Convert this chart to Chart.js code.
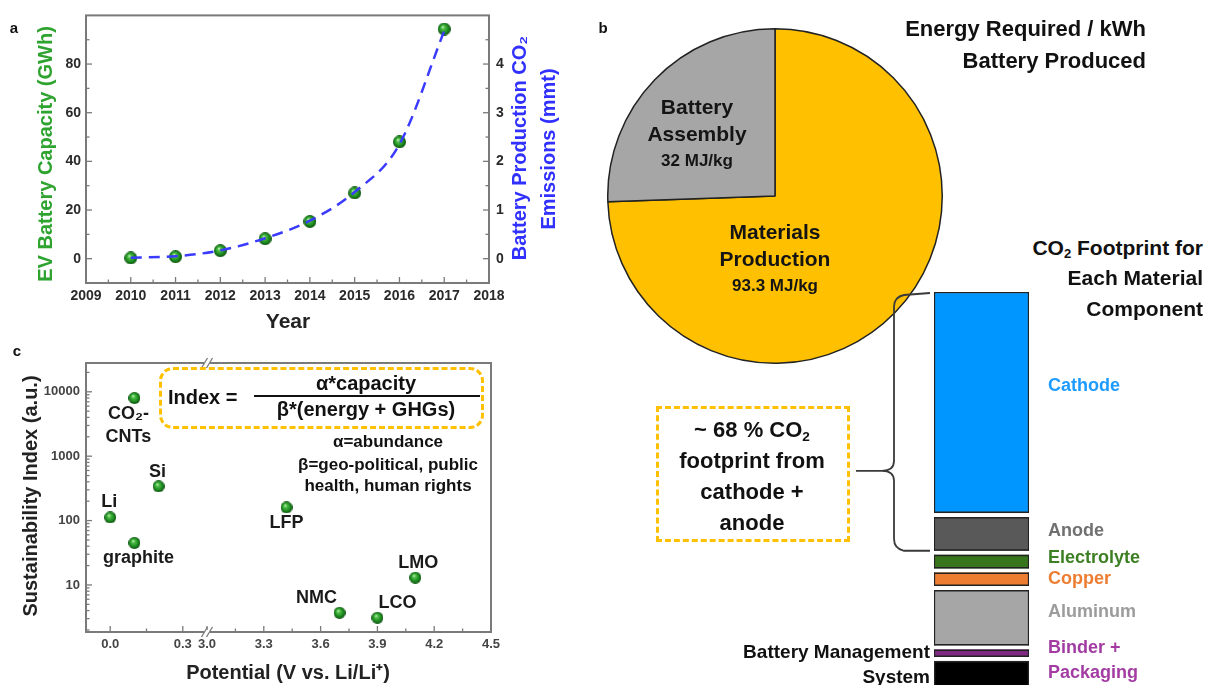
<!DOCTYPE html>
<html>
<head>
<meta charset="utf-8">
<script src="https://cdn.jsdelivr.net/npm/chart.js@4.4.0/dist/chart.umd.min.js"></script>
<style>
  html, body { margin: 0; padding: 0; background: #fff; width: 1208px; height: 685px; overflow: hidden;
    font-family: "Liberation Sans", Arial, Helvetica, sans-serif; font-weight: bold; color: #111; }
  .box { position: absolute; }
  .c { position: absolute; white-space: nowrap; transform: translate(-50%, -50%); line-height: 1; }
  .r { position: absolute; white-space: nowrap; transform: translate(-100%, -50%); line-height: 1; }
  .l { position: absolute; white-space: nowrap; transform: translate(0, -50%); line-height: 1; }
  sub { font-size: 0.62em; vertical-align: -0.3em; line-height: 0; }
  .dash { position: absolute; box-sizing: border-box; border: 3px dashed #FFC000; }
</style>
</head>
<body>
<div class="box" style="left:0;top:0;width:560px;height:340px"><canvas id="capChart"></canvas></div>
<div class="box" style="left:0;top:340px;width:560px;height:345px"><canvas id="indexChart"></canvas></div>
<div class="box" style="left:607px;top:28px;width:336px;height:336px"><canvas id="energyPie"></canvas></div>
<div class="box" style="left:700px;top:288px;width:508px;height:414px"><canvas id="co2Bar"></canvas></div>

<div class="c" style="left:14px;top:27px;font-size:15px">a</div>
<div class="c" style="left:603px;top:27px;font-size:15px">b</div>
<div class="c" style="left:17px;top:350px;font-size:15px">c</div>

<div class="r" style="left:1146px;top:29px;font-size:22px">Energy Required / kWh</div>
<div class="r" style="left:1146px;top:61px;font-size:22px">Battery Produced</div>
<div class="r" style="left:1203px;top:247px;font-size:21px">CO<sub>2</sub> Footprint for</div>
<div class="r" style="left:1203px;top:277px;font-size:21px">Each Material</div>
<div class="r" style="left:1203px;top:308px;font-size:21px">Component</div>

<div class="dash" style="left:656px;top:406px;width:194px;height:136px"></div>
<div class="c" style="left:752px;top:430px;font-size:22px">~ 68 % CO<sub>2</sub></div>
<div class="c" style="left:752px;top:461px;font-size:22px">footprint from</div>
<div class="c" style="left:752px;top:492px;font-size:22px">cathode +</div>
<div class="c" style="left:752px;top:523px;font-size:22px">anode</div>

<div class="dash" style="left:159px;top:367px;width:325px;height:62px;border-radius:14px"></div>
<div class="l" style="left:168px;top:397px;font-size:20px">Index =</div>
<div class="c" style="left:366px;top:383px;font-size:20px">α*capacity</div>
<div style="position:absolute;left:254px;top:395px;width:226px;height:1.5px;background:#111"></div>
<div class="c" style="left:366px;top:409px;font-size:20px">β*(energy + GHGs)</div>
<div class="c" style="left:388px;top:441px;font-size:17px">α=abundance</div>
<div class="c" style="left:388px;top:464px;font-size:17px">β=geo-political, public</div>
<div class="c" style="left:388px;top:485px;font-size:17px">health, human rights</div>

<script>
// panel a: EV battery capacity and CO2 emissions
const years = [2010, 2011, 2012, 2013, 2014, 2015, 2016, 2017];
const capacityGWh = [0.3, 0.8, 3.3, 8.2, 15.3, 27, 48, 94.4];
const emissionsMmt = [0.02, 0.05, 0.17, 0.42, 0.78, 1.37, 2.35, 4.68];
const yearTicks = [2009, 2010, 2011, 2012, 2013, 2014, 2015, 2016, 2017, 2018];
const capacityTicks = [0, 20, 40, 60, 80];
const emissionTicks = [0, 1, 2, 3, 4];

// panel b: energy per kWh and CO2 share of each component
const energySources = ['Materials\nProduction', 'Battery\nAssembly'];
const energyMJkg = [93.3, 32];
const components = ['Cathode', 'Anode', 'Electrolyte', 'Copper', 'Aluminum', 'Binder +\nPackaging', 'Battery Management\nSystem'];
const co2Share = [54.4, 9.2, 4.3, 4.3, 14.5, 2.8, 10.5];

// panel c: sustainability index vs potential
const anodeNames = ['CO₂-\nCNTs', 'Si', 'Li', 'graphite'];
const anodePotential = [0.1, 0.2, 0.0, 0.1];
const anodeIndex = [8000, 340, 112, 45];
const cathodeNames = ['LFP', 'NMC', 'LCO', 'LMO'];
const cathodePotential = [3.42, 3.7, 3.9, 4.1];
const cathodeIndex = [160, 3.7, 3.1, 13];
const lowPotTicks = [0.0, 0.3];
const highPotTicks = [3.0, 3.3, 3.6, 3.9, 4.2, 4.5];
const indexTicks = [10, 100, 1000, 10000];

const FONT = '"Liberation Sans", Arial, Helvetica, sans-serif';
Chart.defaults.font.family = FONT;
Chart.defaults.font.weight = 'bold';
Chart.defaults.color = '#333';
Chart.defaults.animation = false;
Chart.defaults.responsive = true;
Chart.defaults.maintainAspectRatio = false;
Chart.defaults.plugins.legend.display = false;
Chart.defaults.plugins.tooltip.enabled = false;

function sphere(d) {
  const c = document.createElement('canvas');
  c.width = c.height = d;
  const g = c.getContext('2d');
  const r = d / 2;
  const grad = g.createRadialGradient(r * 0.75, r * 0.65, 0, r, r, r);
  grad.addColorStop(0, '#eaffe4');
  grad.addColorStop(0.25, '#52c24a');
  grad.addColorStop(0.7, '#1d8a1f');
  grad.addColorStop(1, '#0a4d0d');
  g.fillStyle = grad;
  g.beginPath();
  g.arc(r, r, r, 0, Math.PI * 2);
  g.fill();
  return c;
}

function drawText(ctx, txt, x, y, o) {
  ctx.save();
  ctx.font = `bold ${o.size || 17}px ${FONT}`;
  ctx.fillStyle = o.color || '#111';
  ctx.textAlign = o.align || 'center';
  ctx.textBaseline = 'middle';
  ctx.translate(x, y);
  if (o.rot) ctx.rotate(o.rot * Math.PI / 180);
  ctx.fillText(txt, 0, 0);
  ctx.restore();
}

// major ticks plus a minor tick half way to the next one
function withMinor(major) {
  const step = major[1] - major[0];
  const out = [];
  major.forEach(v => out.push(v, v + step / 2));
  return out;
}

function fixedTicks(values) {
  return scale => {
    scale.ticks = values.filter(v => v >= scale.min - 1e-9 && v <= scale.max + 1e-9).map(v => ({ value: v }));
  };
}

const tickFont = { size: 13, weight: 'bold' };
const tickFontA = { size: 14, weight: 'bold' };

// box around the plot, inward tick marks, axis breaks, axis titles
const framePlugin = {
  id: 'frame',
  afterDraw(chart, args, opts) {
    const { ctx, chartArea: a } = chart;
    ctx.save();
    ctx.strokeStyle = '#7a7a7a';
    ctx.lineWidth = 1.3;
    Object.values(chart.scales).forEach(s => {
      s.ticks.forEach(t => {
        const p = s.getPixelForValue(t.value);
        const len = t.label ? 6 : 3.5;
        ctx.beginPath();
        if (s.position === 'bottom') { ctx.moveTo(p, a.bottom); ctx.lineTo(p, a.bottom - len); }
        else if (s.position === 'left') { ctx.moveTo(a.left, p); ctx.lineTo(a.left + len, p); }
        else if (s.position === 'right') { ctx.moveTo(a.right, p); ctx.lineTo(a.right - len, p); }
        ctx.stroke();
      });
    });
    ctx.lineWidth = 2;
    ctx.strokeRect(a.left, a.top, a.width, a.height);
    (opts.breaks || []).forEach(id => {
      const x = chart.scales[id].right;
      [a.top, a.bottom].forEach(y => {
        ctx.fillStyle = '#fff';
        ctx.fillRect(x - 3, y - 2, 6, 4);
        ctx.lineWidth = 1.3;
        [-2.5, 2.5].forEach(d => {
          ctx.beginPath();
          ctx.moveTo(x + d - 3, y + 5);
          ctx.lineTo(x + d + 3, y - 5);
          ctx.stroke();
        });
      });
    });
    (opts.titles || []).forEach(tt => drawText(ctx, tt.text, tt.x, tt.y, tt));
    ctx.restore();
  }
};

// panel a
new Chart(document.getElementById('capChart'), {
  type: 'line',
  data: {
    datasets: [
      {
        label: 'Battery production CO₂ emissions',
        data: years.map((x, i) => ({ x, y: emissionsMmt[i] })),
        yAxisID: 'y2',
        borderColor: '#3b3bff',
        borderWidth: 2.5,
        borderDash: [11, 7],
        pointRadius: 0,
        cubicInterpolationMode: 'monotone',
        fill: false,
      },
      {
        label: 'EV battery capacity',
        data: years.map((x, i) => ({ x, y: capacityGWh[i] })),
        yAxisID: 'y',
        showLine: false,
        pointStyle: sphere(13),
        pointRadius: 6,
      },
    ],
  },
  options: {
    layout: { padding: { top: 14 } },
    scales: {
      x: {
        type: 'linear', min: 2009, max: 2018,
        grid: { display: false, drawTicks: false }, border: { display: false },
        afterBuildTicks: fixedTicks(withMinor(yearTicks)),
        ticks: { callback: v => yearTicks.includes(v) ? String(v) : '', autoSkip: false, maxRotation: 0, minRotation: 0, font: tickFontA, padding: 5, color: '#2a2a2a' },
        afterFit: s => { s.height = 57; },
      },
      y: {
        position: 'left', min: -10, max: 100,
        grid: { display: false, drawTicks: false }, border: { display: false },
        afterBuildTicks: fixedTicks(withMinor(capacityTicks)),
        ticks: { callback: v => capacityTicks.includes(v) ? String(v) : '', autoSkip: false, font: tickFontA, padding: 5, color: '#2a2a2a' },
        afterFit: s => { s.width = 86; },
      },
      y2: {
        position: 'right', min: -0.5, max: 5,
        grid: { display: false, drawTicks: false }, border: { display: false },
        afterBuildTicks: fixedTicks(withMinor(emissionTicks)),
        ticks: { callback: v => emissionTicks.includes(v) ? String(v) : '', autoSkip: false, font: tickFontA, padding: 7, color: '#2a2a2a' },
        afterFit: s => { s.width = 71; },
      },
    },
    plugins: {
      frame: {
        titles: [
          { text: 'EV Battery Capacity (GWh)', x: 46, y: 154, rot: -90, size: 20, color: '#2fa32f' },
          { text: 'Battery Production CO₂', x: 520, y: 148, rot: -90, size: 20, color: '#3030ff' },
          { text: 'Emissions (mmt)', x: 549, y: 149, rot: -90, size: 20, color: '#3030ff' },
          { text: 'Year', x: 288, y: 322, size: 21, color: '#222' },
        ],
      },
    },
  },
  plugins: [framePlugin],
});

// panel c: point names
const nameOffsets = {
  'CO₂-\nCNTs': [-6, 16], 'Si': [-1, -14], 'Li': [-1, -15], 'graphite': [4, 15],
  'LFP': [0, 16], 'NMC': [-23, -15], 'LCO': [20, -15], 'LMO': [3, -15],
};
const pointNamePlugin = {
  id: 'pointNames',
  afterDatasetsDraw(chart) {
    const { ctx } = chart;
    chart.data.datasets.forEach((ds, di) => {
      chart.getDatasetMeta(di).data.forEach((pt, i) => {
        const name = ds.names[i];
        const [dx, dy] = nameOffsets[name];
        const lines = name.split('\n');
        lines.forEach((ln, k) => {
          const y = dy < 0 ? pt.y + dy - (lines.length - 1 - k) * 23 : pt.y + dy + k * 23;
          drawText(ctx, ln, pt.x + dx, y, { size: 18, color: '#1a1a1a' });
        });
      });
    });
  }
};

const logMinor = [];
[1, 10, 100, 1000, 10000].forEach(d => { for (let m = 1; m <= 9; m++) logMinor.push(d * m); });

new Chart(document.getElementById('indexChart'), {
  type: 'scatter',
  data: {
    datasets: [
      { label: 'anodes', names: anodeNames, data: anodePotential.map((x, i) => ({ x, y: anodeIndex[i] })), xAxisID: 'xl', yAxisID: 'y', pointStyle: sphere(12), pointRadius: 6 },
      { label: 'cathodes', names: cathodeNames, data: cathodePotential.map((x, i) => ({ x, y: cathodeIndex[i] })), xAxisID: 'xr', yAxisID: 'y', pointStyle: sphere(12), pointRadius: 6 },
    ],
  },
  options: {
    layout: { padding: { top: 23, right: 69 } },
    scales: {
      xl: {
        type: 'linear', position: 'bottom', stack: 'potential', stackWeight: 121, min: -0.1, max: 0.4,
        grid: { display: false, drawTicks: false }, border: { display: false },
        afterBuildTicks: fixedTicks(withMinor(lowPotTicks)),
        ticks: { callback: v => lowPotTicks.includes(v) ? v.toFixed(1) : '', autoSkip: false, maxRotation: 0, minRotation: 0, font: tickFont, padding: 5, color: '#444' },
        afterFit: s => { s.height = 53; },
      },
      xr: {
        type: 'linear', position: 'bottom', stack: 'potential', stackWeight: 284, min: 3.0, max: 4.5,
        grid: { display: false, drawTicks: false }, border: { display: false },
        afterBuildTicks: fixedTicks(withMinor(highPotTicks)),
        ticks: { callback: v => highPotTicks.includes(v) ? v.toFixed(1) : '', autoSkip: false, maxRotation: 0, minRotation: 0, font: tickFont, padding: 5, color: '#444' },
        afterFit: s => { s.height = 53; },
      },
      y: {
        type: 'logarithmic', position: 'left', min: 1.86, max: 28000,
        grid: { display: false, drawTicks: false }, border: { display: false },
        afterBuildTicks: fixedTicks(logMinor),
        ticks: { callback: v => indexTicks.includes(v) ? String(v) : '', autoSkip: false, font: tickFont, padding: 6, color: '#444' },
        afterFit: s => { s.width = 86; },
      },
    },
    plugins: {
      frame: {
        breaks: ['xl'],
        titles: [
          { text: 'Sustainability Index (a.u.)', x: 31, y: 156, rot: -90, size: 20, color: '#222' },
          { text: 'Potential (V vs. Li/Li⁺)', x: 288, y: 333, size: 20, color: '#222' },
        ],
      },
    },
  },
  plugins: [framePlugin, pointNamePlugin],
});

// panel b: pie
const pieLabelLayout = [
  { dx: 0, dy: 37 },
  { dx: -78, dy: -88 },
];
const pieLabelPlugin = {
  id: 'pieLabels',
  afterDatasetsDraw(chart) {
    const { ctx } = chart;
    const meta = chart.getDatasetMeta(0);
    meta.data.forEach((arc, i) => {
      const { dx, dy } = pieLabelLayout[i];
      const lines = energySources[i].split('\n');
      lines.forEach((ln, k) => drawText(ctx, ln, arc.x + dx, arc.y + dy + k * 27, { size: 21, color: '#141414' }));
      drawText(ctx, `${energyMJkg[i]} MJ/kg`, arc.x + dx, arc.y + dy + lines.length * 26.5, { size: 17, color: '#141414' });
    });
  }
};

new Chart(document.getElementById('energyPie'), {
  type: 'pie',
  data: {
    labels: energySources,
    datasets: [{ data: energyMJkg, backgroundColor: ['#FFC000', '#A6A6A6'], borderColor: '#222', borderWidth: 1.5 }],
  },
  options: { layout: { padding: 0 } },
  plugins: [pieLabelPlugin],
});

// panel b: stacked CO2 bar
const segmentColors = ['#0096FF', '#595959', '#38761D', '#ED7D31', '#A6A6A6', '#7E2A82', '#000000'];
const labelColors = ['#1E9BFF', '#707070', '#3D7F23', '#ED7D31', '#9C9C9C', '#A23CA2', '#111111'];
const segLabelLayout = [
  { side: 'right', dy: -17 }, { side: 'right', dy: -3 }, { side: 'right', dy: -4 }, { side: 'right', dy: 0 },
  { side: 'right', dy: -6 }, { side: 'right', dy: -5 }, { side: 'left', dy: -28 },
];

const segmentPlugin = {
  id: 'segments',
  afterDatasetsDraw(chart) {
    const { ctx, chartArea: a } = chart;
    const segs = chart.data.datasets.map((ds, i) => {
      const el = chart.getDatasetMeta(i).data[0];
      const { x, y, base, width } = el.getProps(['x', 'y', 'base', 'width'], true);
      return { left: x - width / 2, right: x + width / 2, top: Math.min(y, base), bottom: Math.max(y, base) };
    });
    ctx.save();
    // white gaps between the stacked pieces
    segs.slice(0, -1).forEach(s => {
      const b = s.bottom;
      ctx.fillStyle = '#fff';
      ctx.fillRect(s.left - 1, b - 2, s.right - s.left + 2, 4);
      ctx.strokeStyle = '#222';
      ctx.lineWidth = 1.5;
      [b - 2.75, b + 2.75].forEach(yy => {
        ctx.beginPath();
        ctx.moveTo(s.left, yy);
        ctx.lineTo(s.right, yy);
        ctx.stroke();
      });
    });
    // labels
    segs.forEach((s, i) => {
      const lay = segLabelLayout[i];
      const lines = components[i].split('\n');
      const cy = (s.top + s.bottom) / 2 + lay.dy;
      lines.forEach((ln, k) => {
        if (lay.side === 'right') drawText(ctx, ln, a.right + 19, cy + k * 25, { size: 18, color: labelColors[i], align: 'left' });
        else drawText(ctx, ln, a.left - 4, cy + k * 25, { size: 19, color: labelColors[i], align: 'right' });
      });
    });
    // brace spanning cathode + anode
    const top = segs[0].top + 1, bot = segs[1].bottom - 2;
    const xt = a.left - 4, xs = a.left - 40, xm = a.left - 78;
    const ym = top + (bot - top) * 0.69;
    ctx.strokeStyle = '#3a3a3a';
    ctx.lineWidth = 1.8;
    ctx.beginPath();
    ctx.moveTo(xt, top);
    ctx.lineTo(xs + 10, top + 2);
    ctx.quadraticCurveTo(xs, top + 4, xs, top + 14);
    ctx.lineTo(xs, ym - 10);
    ctx.quadraticCurveTo(xs, ym, xs - 12, ym);
    ctx.lineTo(xm, ym);
    ctx.moveTo(xs - 12, ym);
    ctx.quadraticCurveTo(xs, ym, xs, ym + 10);
    ctx.lineTo(xs, bot - 12);
    ctx.quadraticCurveTo(xs, bot - 2, xs + 10, bot);
    ctx.lineTo(xt, bot);
    ctx.stroke();
    ctx.restore();
  }
};

new Chart(document.getElementById('co2Bar'), {
  type: 'bar',
  data: {
    labels: ['CO₂ footprint'],
    datasets: components.map((c, i) => ({
      label: c,
      data: [co2Share[i]],
      backgroundColor: segmentColors[i],
      borderColor: '#222',
      borderWidth: 1.5,
      borderSkipped: false,
      stack: 'co2',
      barPercentage: 1,
      categoryPercentage: 1,
    })),
  },
  options: {
    layout: { padding: { top: 4, left: 234, right: 179, bottom: 0 } },
    scales: {
      x: { display: false, stacked: true },
      y: { display: false, stacked: true, reverse: true, min: 0, max: 100 },
    },
  },
  plugins: [segmentPlugin],
});
</script>
</body>
</html>
